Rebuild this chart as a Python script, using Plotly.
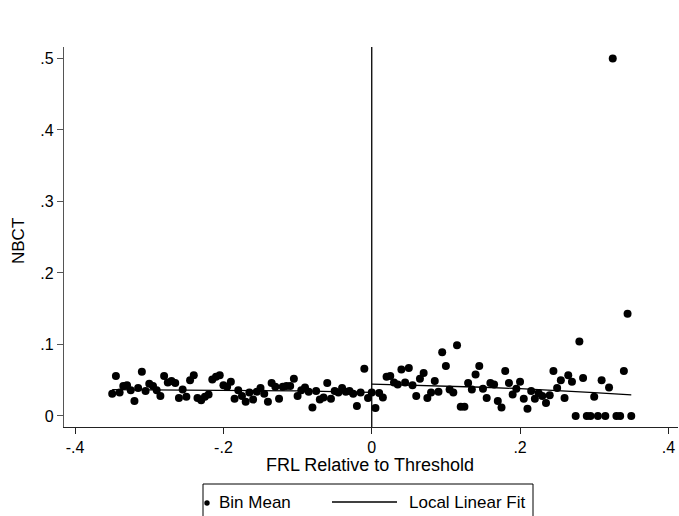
import plotly.graph_objects as go

# Binned means of NBCT, bins of width .005 on each side of the cutoff
left_x = [round(-0.35 + 0.005 * i, 4) for i in range(70)]
left_y = [
    0.031, 0.056, 0.033, 0.042, 0.043, 0.036, 0.021, 0.039, 0.062, 0.035,
    0.045, 0.042, 0.036, 0.028, 0.056, 0.047, 0.049, 0.046, 0.025, 0.037,
    0.027, 0.050, 0.057, 0.025, 0.022, 0.027, 0.030, 0.051, 0.055, 0.057,
    0.043, 0.041, 0.048, 0.024, 0.036, 0.028, 0.020, 0.033, 0.023, 0.034,
    0.039, 0.031, 0.020, 0.046, 0.041, 0.024, 0.041, 0.042, 0.042, 0.052,
    0.028, 0.036, 0.040, 0.034, 0.012, 0.035, 0.023, 0.026, 0.046, 0.024,
    0.035, 0.033, 0.039, 0.034, 0.035, 0.031, 0.014, 0.033, 0.066, 0.025,
]
right_x = [round(0.005 * j, 4) for j in range(71)]
right_y = [
    0.033, 0.011, 0.032, 0.026, 0.055, 0.056, 0.047, 0.044, 0.065, 0.047,
    0.067, 0.043, 0.028, 0.052, 0.060, 0.025, 0.033, 0.049, 0.034, 0.089,
    0.070, 0.037, 0.033, 0.099, 0.013, 0.013, 0.046, 0.037, 0.058, 0.070,
    0.038, 0.025, 0.046, 0.044, 0.021, 0.012, 0.063, 0.046, 0.030, 0.038,
    0.048, 0.024, 0.010, 0.035, 0.024, 0.032, 0.028, 0.018, 0.029, 0.063,
    0.039, 0.050, 0.025, 0.057, 0.048, 0.000, 0.104, 0.053, 0.000, 0.000,
    0.027, 0.000, 0.050, 0.000, 0.040, 0.500, 0.000, 0.000, 0.063, 0.143,
    0.000,
]

# Local linear fits on each side
fit_left_x = [-0.35, -0.30, -0.25, -0.20, -0.15, -0.10, -0.05, 0.0]
fit_left_y = [0.0368, 0.0366, 0.0363, 0.0360, 0.0355, 0.0350, 0.0341, 0.0330]
fit_right_x = [0.0, 0.05, 0.10, 0.15, 0.20, 0.25, 0.30, 0.35]
fit_right_y = [0.0445, 0.0432, 0.0418, 0.0402, 0.0382, 0.0357, 0.0327, 0.0295]

cutoff = 0.0
x_ticks = [-0.4, -0.2, 0.0, 0.2, 0.4]
x_tick_text = ["-.4", "-.2", "0", ".2", ".4"]
y_ticks = [0.0, 0.1, 0.2, 0.3, 0.4, 0.5]
y_tick_text = ["0", ".1", ".2", ".3", ".4", ".5"]

FONT = "Liberation Sans, Arial, Helvetica, sans-serif"
FS_TICK = 16
FS_TITLE = 18
FS_LEG = 17

fig = go.Figure()
for xs, ys in ((left_x, left_y), (right_x, right_y)):
    fig.add_trace(go.Scatter(
        x=xs, y=ys, mode="markers", showlegend=False,
        marker=dict(color="black", size=8, line=dict(width=0)),
    ))
for xs, ys in ((fit_left_x, fit_left_y), (fit_right_x, fit_right_y)):
    fig.add_trace(go.Scatter(
        x=xs, y=ys, mode="lines", showlegend=False,
        line=dict(color="black", width=1.3),
    ))

# Threshold line
fig.add_shape(type="line", xref="x", yref="paper", x0=cutoff, x1=cutoff,
              y0=0, y1=1, line=dict(color="black", width=1.3))

# Plot area spans pixels 64..678 horizontally and 47..427 vertically
L, R, T, B = 64, 678, 47, 427
def px(x):
    return (x - L) / (R - L)
def py(y):
    return (B - y) / (B - T)

# Legend box
fig.add_shape(type="rect", xref="paper", yref="paper",
              x0=px(203), x1=px(533), y0=py(484), y1=py(530),
              line=dict(color="black", width=1), fillcolor="white")
fig.add_shape(type="circle", xref="paper", yref="paper",
              x0=px(204.3), x1=px(209.7), y0=py(505.7), y1=py(500.3),
              line=dict(width=0), fillcolor="black")
fig.add_shape(type="line", xref="paper", yref="paper",
              x0=px(332), x1=px(397), y0=py(502), y1=py(502),
              line=dict(color="black", width=1.3))

annotations = [
    dict(text="Bin Mean", x=px(217), y=py(502), xanchor="left", yanchor="middle", size=FS_LEG),
    dict(text="Local Linear Fit", x=px(407), y=py(502), xanchor="left", yanchor="middle", size=FS_LEG),
    dict(text="FRL Relative to Threshold", x=px(370), y=py(465), xanchor="center", yanchor="middle", size=FS_TITLE),
    dict(text="NBCT", x=px(18), y=py(241), xanchor="center", yanchor="middle", textangle=-90, size=FS_LEG),
]
for a in annotations:
    size = a.pop("size")
    a.update(xref="paper", yref="paper", showarrow=False,
             font=dict(family=FONT, size=size, color="black"))
fig.update_layout(annotations=annotations)

fig.update_layout(
    width=679, height=516,
    margin=dict(l=L, r=679 - R, t=T, b=516 - B, pad=0),
    paper_bgcolor="white", plot_bgcolor="white",
    font=dict(family=FONT, size=FS_TICK, color="black"),
    xaxis=dict(
        range=[-0.415, 0.413], tickvals=x_ticks, ticktext=x_tick_text,
        showgrid=False, zeroline=False, showline=True, linecolor="#222", linewidth=1.3,
        ticks="outside", ticklen=6, tickwidth=1.2, tickcolor="#222",
        tickfont=dict(family=FONT, size=FS_TICK, color="black"),
    ),
    yaxis=dict(
        range=[-0.0154, 0.516], tickvals=y_ticks, ticktext=y_tick_text,
        showgrid=False, zeroline=False, showline=True, linecolor="#555", linewidth=1.3,
        ticks="outside", ticklen=6, tickwidth=1.2, tickcolor="#555",
        tickfont=dict(family=FONT, size=FS_TICK, color="black"),
    ),
)

fig.write_html("out.html")
